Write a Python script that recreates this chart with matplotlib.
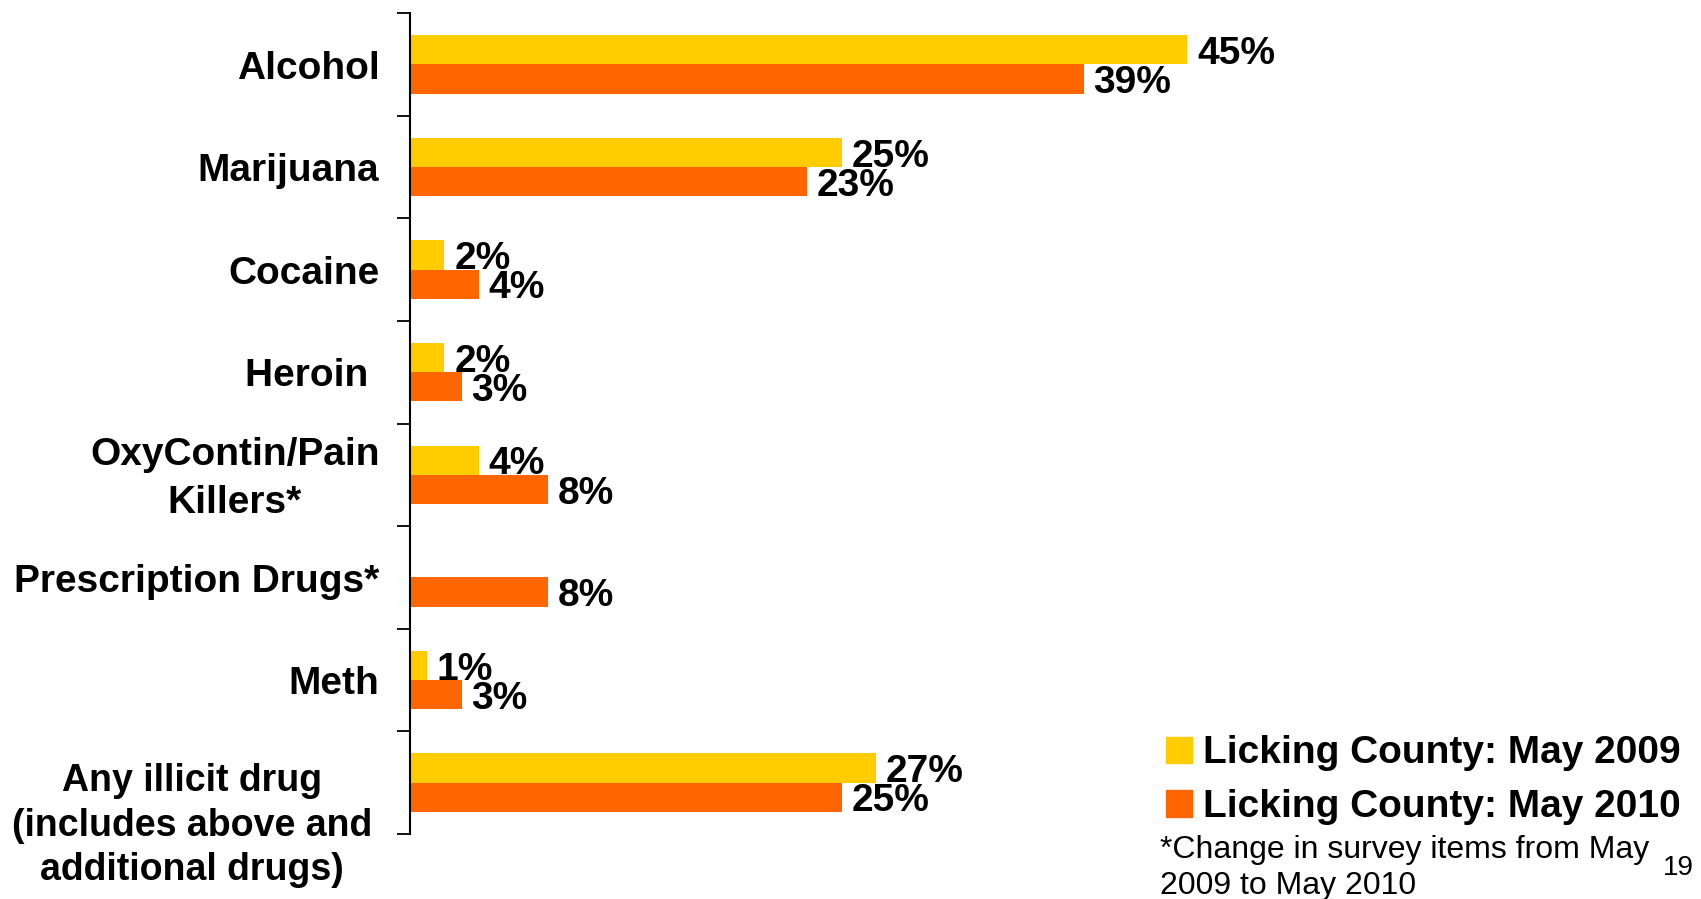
import numpy as np
import matplotlib
matplotlib.use("Agg")
import matplotlib.pyplot as plt
from matplotlib.patches import Patch

plt.rcParams['font.family'] = ['Liberation Sans', 'DejaVu Sans']

categories = ["Alcohol", "Marijuana", "Cocaine", "Heroin ", "OxyContin/Pain\nKillers*",
              "Prescription Drugs*", "Meth",
              "Any illicit drug\n(includes above and\nadditional drugs)"]
may2009 = [45, 25, 2, 2, 4, np.nan, 1, 27]
may2010 = [39, 23, 4, 3, 8, 8, 3, 25]
series_names = ["Licking County: May 2009", "Licking County: May 2010"]
footnote = "*Change in survey items from May\n2009 to May 2010"
page_num = "19"

yellow = "#FFCC00"
orange = "#FF6600"

fig = plt.figure(figsize=(17.01, 8.99), dpi=100)
ax = fig.add_axes([0.2410, 0.0723, 0.5077, 0.9132])

y = np.arange(len(categories))
h = 0.285
ax.barh(y - h / 2, may2009, height=h, color=yellow, label=series_names[0])
ax.barh(y + h / 2, may2010, height=h, color=orange, label=series_names[1])

# value labels
for i in range(len(categories)):
    for val, off in ((may2009[i], -h / 2), (may2010[i], h / 2)):
        if np.isnan(val):
            continue
        ax.annotate(f"{val:.0f}%", xy=(val, i + off), xytext=(7, -3),
                    textcoords="offset points", ha="left", va="center",
                    fontsize=28, fontweight="bold")

ax.set_xlim(0, 50)
ax.set_ylim(len(categories) - 0.5, -0.5)

# category labels (last one sits lower, like the original slide)
for i, cat in enumerate(categories):
    dx, dy, ls, fs = -22, -3, 1.44, 28
    if i == len(categories) - 1:
        dx, dy, ls, fs = -27, -31, 1.3, 27
    ax.annotate(cat, xy=(0, i), xycoords=("axes fraction", "data"),
                xytext=(dx, dy), textcoords="offset points",
                ha="right", va="center", multialignment="center",
                fontsize=fs, fontweight="bold", linespacing=ls)

ax.set_yticks(y)
ax.set_yticklabels([])
ax.set_yticks(np.arange(len(categories) + 1) - 0.5, minor=True)
ax.tick_params(axis="y", which="major", length=0)
ax.tick_params(axis="y", which="minor", length=9.4, width=1.3, direction="out", color="black")
ax.set_xticks([])
for s in ("top", "right", "bottom"):
    ax.spines[s].set_visible(False)
ax.spines["left"].set_linewidth(1.5)
ax.spines["left"].set_color("black")

handles = [Patch(color=yellow), Patch(color=orange)]
fig.legend(handles, series_names, loc="upper left", bbox_to_anchor=(1166 / 1701, 0.182),
           frameon=False, prop={"weight": "bold", "size": 28},
           handlelength=0.67, handleheight=0.67, handletextpad=0.28,
           labelspacing=0.46, borderpad=0, borderaxespad=0)

fig.text(1160 / 1701, (899 - 850) / 899, footnote.split("\n")[0], fontsize=23,
         ha="left", va="center")
fig.text(1160 / 1701, (899 - 886) / 899, footnote.split("\n")[1], fontsize=23,
         ha="left", va="center")
fig.text(1694 / 1701, (899 - 868) / 899, page_num, fontsize=20, ha="right", va="center")

fig.savefig("out.png", dpi=100)
